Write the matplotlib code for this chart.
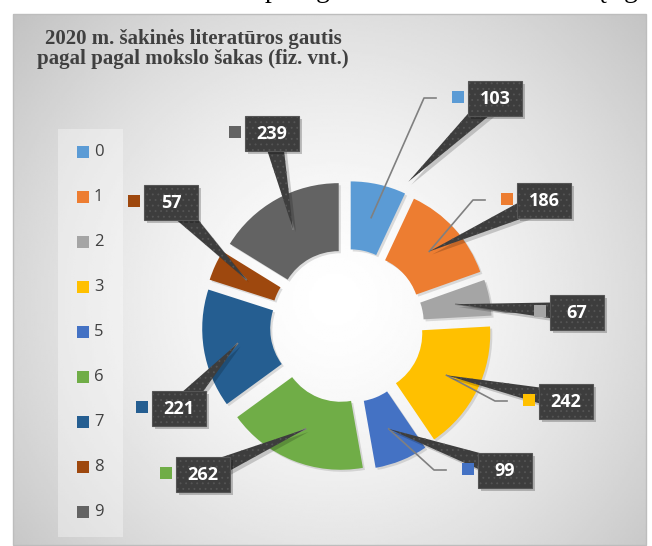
import numpy as np
import matplotlib
matplotlib.use('Agg')
import matplotlib.pyplot as plt
import matplotlib.patheffects as pe
from matplotlib.patches import Rectangle, Polygon

plt.rcParams['hatch.linewidth'] = 0.6

# --- DATA ---
kategorijos = ['0', '1', '2', '3', '5', '6', '7', '8', '9']
reiksmes = [103, 186, 67, 242, 99, 262, 221, 57, 239]
spalvos = ['#5B9BD5', '#ED7D31', '#A5A5A5', '#FFC000', '#4472C4',
           '#70AD47', '#255E91', '#9E480E', '#636363']
pavadinimas = '2020 m. šakinės literatūros gautis\npagal pagal mokslo šakas (fiz. vnt.)'

# --- LAYOUT (pixels, y down) ---
W, H = 652, 546
CX, CY = 347, 326          # donut centre
R, RING = 128, 68          # outer radius, ring width
EXPL = 17                  # explode offset
# callout box centres (placed by hand in the original)
box_x = [495, 544, 577, 566, 505, 203, 179, 171, 272]
box_y = [98, 200, 312, 401, 470, 474, 408, 202, 133]
tip_frac = [0.7, 1, 1, 1, 1, 1, 1, 1, 1]
BW, BH = 54, 35
SH = 3  # shadow offset

fig = plt.figure(figsize=(W / 100, H / 100), dpi=100)
ax = fig.add_axes([0, 0, 1, 1])

# background with radial gradient
gx, gy = np.meshgrid(np.linspace(13, 646, 300), np.linspace(14, 545, 260))
d = np.hypot(gx - 335, gy - 300) / 430
bg = 1 - 0.24 * np.clip(d, 0, 1.2) ** 1.5
ax.imshow(bg, extent=(13, 646, 545, 14), cmap='gray', vmin=0, vmax=1,
          interpolation='bilinear', zorder=0, aspect='auto')
ax.add_patch(Rectangle((13, 14), 633, 531, fill=False, edgecolor='#bdbdbd', lw=1, zorder=1))

# donut
wedges, _ = ax.pie(reiksmes, colors=spalvos, startangle=-90, counterclock=True,
                   radius=R, center=(CX, CY), explode=[EXPL] * len(reiksmes),
                   wedgeprops=dict(width=RING, linewidth=0))
for w in wedges:
    w.set_zorder(2)
    w.set_path_effects([pe.SimplePatchShadow(offset=(1.5, -1.5), shadow_rgbFace='#7f7f7f', alpha=0.25),
                        pe.Normal()])

ax.set_xlim(0, W)
ax.set_ylim(H, 0)
ax.axis('off')

for i, w in enumerate(wedges):
    th = np.deg2rad((w.theta1 + w.theta2) / 2)
    rm = w.r - w.width / 2
    ax_, ay_ = w.center[0] + rm * np.cos(th), w.center[1] + rm * np.sin(th)
    bx, by = box_x[i], box_y[i]
    left = bx - BW / 2
    sq_left = left - 4 - 12

    # leader line
    if bx > CX:
        sx = sq_left - 16
        ax.plot([sx, sx - 12, ax_], [by, by, ay_], color='#808080', lw=1.2, zorder=3)
    else:
        ax.plot([bx, ax_], [by, ay_], color='#808080', lw=1.2, zorder=3)

    # callout pointer
    tx = bx + tip_frac[i] * (ax_ - bx)
    ty = by + tip_frac[i] * (ay_ - by)
    dx, dy = tx - bx, ty - by
    L = np.hypot(dx, dy)
    nx, ny = -dy / L * 10, dx / L * 10
    tri = [(bx + nx, by + ny), (bx - nx, by - ny), (tx, ty)]
    ax.add_patch(Polygon([(p + SH, q + SH) for p, q in tri], closed=True,
                         facecolor='black', alpha=0.18, lw=0, zorder=3.5))
    ax.add_patch(Polygon(tri, closed=True, facecolor='#3d3d3d', edgecolor='#555555',
                         lw=0, hatch='...', zorder=4))
    # callout box
    ax.add_patch(Rectangle((left + SH, by - BH / 2 + SH), BW, BH, facecolor='black',
                           alpha=0.22, lw=0, zorder=4.5))
    ax.add_patch(Rectangle((left, by - BH / 2), BW, BH, facecolor='#3d3d3d',
                           edgecolor='#555555', lw=0.8, hatch='...', zorder=5))
    ax.text(bx, by + 1, str(reiksmes[i]), ha='center', va='center', color='white',
            fontsize=13, fontweight='bold', fontfamily='Open Sans', zorder=6)
    ax.add_patch(Rectangle((sq_left, by - 7), 12, 12, facecolor=spalvos[i], lw=0, zorder=6))

# legend panel
ax.add_patch(Rectangle((58, 129), 65, 408, facecolor='white', alpha=0.35, lw=0, zorder=1))
for i, k in enumerate(kategorijos):
    yy = 152 + 45 * i
    ax.add_patch(Rectangle((77, yy - 6), 12, 12, facecolor=spalvos[i], lw=0, zorder=2))
    ax.text(94, yy, k, ha='left', va='center', fontsize=12, color='#404040',
            fontfamily='Open Sans', zorder=2)

# title
ax.text(193, 49, pavadinimas, ha='center', va='center', multialignment='center',
        fontsize=15, fontweight='bold', fontfamily='Liberation Serif',
        color='#404040', linespacing=1.02, zorder=2)

# cut-off caption above the chart (only descenders visible)
for ch, xx in [('p', 272), ('g', 323), ('ą', 600), ('g', 631)]:
    ax.text(xx, -3, ch, ha='center', va='baseline', fontsize=20,
            fontfamily='Liberation Serif', color='black', zorder=2)

fig.savefig('out.png', dpi=100)
